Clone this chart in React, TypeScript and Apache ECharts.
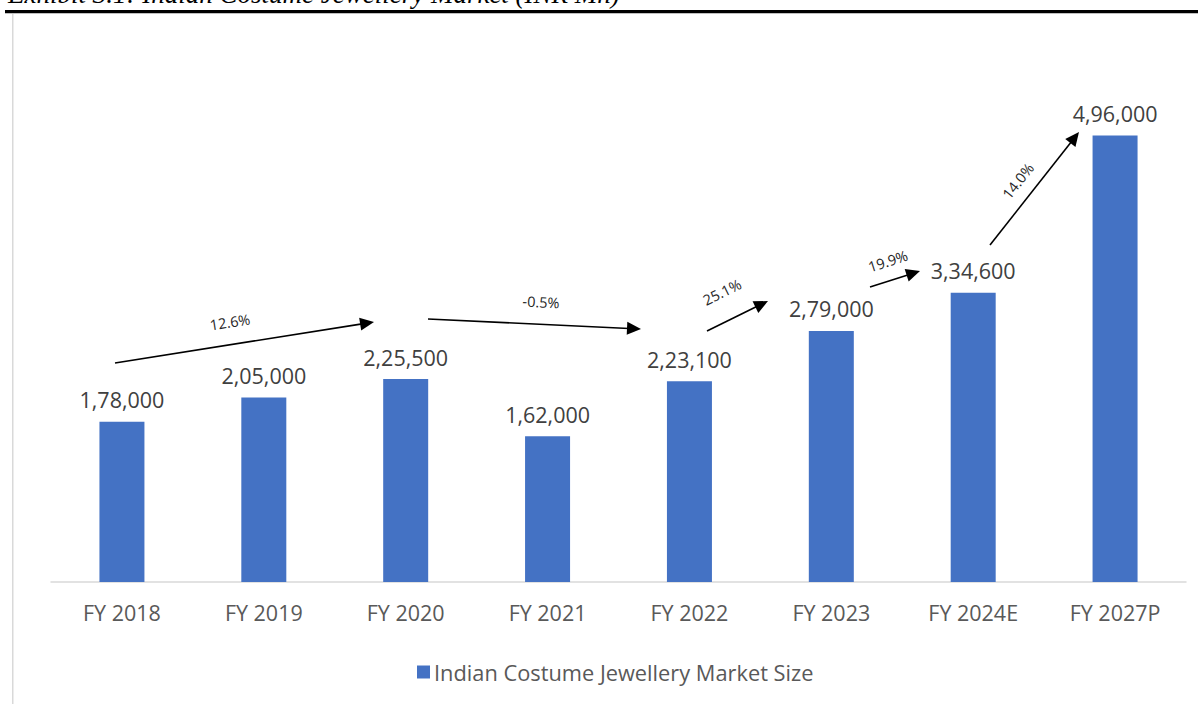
import React, { useEffect, useRef } from "react";
import * as echarts from "echarts";

const categories = ["FY 2018", "FY 2019", "FY 2020", "FY 2021", "FY 2022", "FY 2023", "FY 2024E", "FY 2027P"];
// bar heights as drawn in the picture
const marketSize = [178000, 205000, 225500, 162000, 223100, 279000, 321500, 496000];
// data labels as printed in the picture
const dataLabels = ["1,78,000", "2,05,000", "2,25,500", "1,62,000", "2,23,100", "2,79,000", "3,34,600", "4,96,000"];
const seriesName = "Indian Costume Jewellery Market Size";
const growthLabels = ["12.6%", "-0.5%", "25.1%", "19.9%", "14.0%"];
const titleText = "Exhibit 3.1: Indian Costume Jewellery Market (INR Mn)";

// annotation arrows (pixel geometry): start, tip, label centre
const arrowGeom = [
  { x1: 115, y1: 363, x2: 374, y2: 322, lx: 230, ly: 322 },
  { x1: 428, y1: 319, x2: 641, y2: 329, lx: 541, ly: 302 },
  { x1: 707, y1: 331, x2: 768, y2: 301, lx: 722, ly: 292 },
  { x1: 870, y1: 287, x2: 920, y2: 271, lx: 888, ly: 261 },
  { x1: 990, y1: 245, x2: 1079, y2: 132, lx: 1018, ly: 181 },
];

function arrowElements() {
  const els: any[] = [];
  arrowGeom.forEach((a, i) => {
    const dx = a.x2 - a.x1;
    const dy = a.y2 - a.y1;
    const len = Math.sqrt(dx * dx + dy * dy);
    const ux = dx / len;
    const uy = dy / len;
    const hl = 14;
    const hw = 6.5;
    const bx = a.x2 - ux * hl;
    const by = a.y2 - uy * hl;
    els.push({
      type: "line",
      shape: { x1: a.x1, y1: a.y1, x2: bx + ux * 2, y2: by + uy * 2 },
      style: { stroke: "#000", lineWidth: 1.6 },
      silent: true,
    });
    els.push({
      type: "polygon",
      shape: {
        points: [
          [a.x2, a.y2],
          [bx - uy * hw, by + ux * hw],
          [bx + uy * hw, by - ux * hw],
        ],
      },
      style: { fill: "#000" },
      silent: true,
    });
    const ang = Math.atan2(-dy, dx);
    els.push({
      type: "text",
      x: a.lx,
      y: a.ly,
      rotation: ang,
      style: {
        text: growthLabels[i],
        font: "14.5px 'Open Sans'",
        fill: "#262626",
        align: "center",
        verticalAlign: "middle",
      },
      silent: true,
    });
  });
  return els;
}

export default function App() {
  const ref = useRef<HTMLDivElement>(null);
  useEffect(() => {
    if (!ref.current) return;
    const chart = echarts.init(ref.current, null, { renderer: "svg" });
    chart.setOption({
      animation: false,
      backgroundColor: "#ffffff",
      textStyle: { fontFamily: "'Open Sans', sans-serif" },
      grid: { left: 51, right: 12, top: 132, bottom: 122, containLabel: false },
      xAxis: {
        type: "category",
        data: categories,
        axisLine: { lineStyle: { color: "#d9d9d9", width: 1.5 } },
        axisTick: { show: false },
        axisLabel: { color: "#595959", fontSize: 21.5, margin: 19, fontFamily: "'Open Sans'" },
      },
      yAxis: {
        type: "value",
        min: 0,
        max: 500000,
        show: false,
        splitLine: { show: false },
      },
      legend: {
        data: [seriesName],
        left: 412,
        top: 656,
        itemWidth: 13,
        itemHeight: 13,
        itemGap: 10,
        icon: "rect",
        textStyle: { color: "#595959", fontSize: 21.8, fontFamily: "'Open Sans'", padding: [0, 0, 0, -1] },
      },
      series: [
        {
          name: seriesName,
          type: "bar",
          data: marketSize,
          barWidth: 45,
          itemStyle: { color: "#4472C4" },
          label: {
            show: true,
            position: "top",
            distance: 11,
            color: "#404040",
            fontSize: 21.5,
            fontFamily: "'Open Sans'",
            formatter: (p: any) => dataLabels[p.dataIndex],
          },
        },
      ],
      graphic: [
        {
          type: "text",
          left: 8,
          top: -20,
          style: {
            text: titleText,
            font: "italic 27px 'Liberation Serif', serif",
            fill: "#000",
          },
          silent: true,
        },
        { type: "rect", shape: { x: 5, y: 10, width: 1193, height: 3 }, style: { fill: "#000" }, silent: true },
        { type: "rect", shape: { x: 5, y: 13, width: 1193, height: 1 }, style: { fill: "#bfbfbf" }, silent: true },
        { type: "rect", shape: { x: 12, y: 14, width: 1.5, height: 690 }, style: { fill: "#d9d9d9" }, silent: true },
        ...arrowElements(),
      ],
    });
    return () => chart.dispose();
  }, []);
  return (
    <div
      ref={ref}
      style={{ position: "absolute", left: 0, top: 0, width: 1198, height: 704 }}
    />
  );
}
